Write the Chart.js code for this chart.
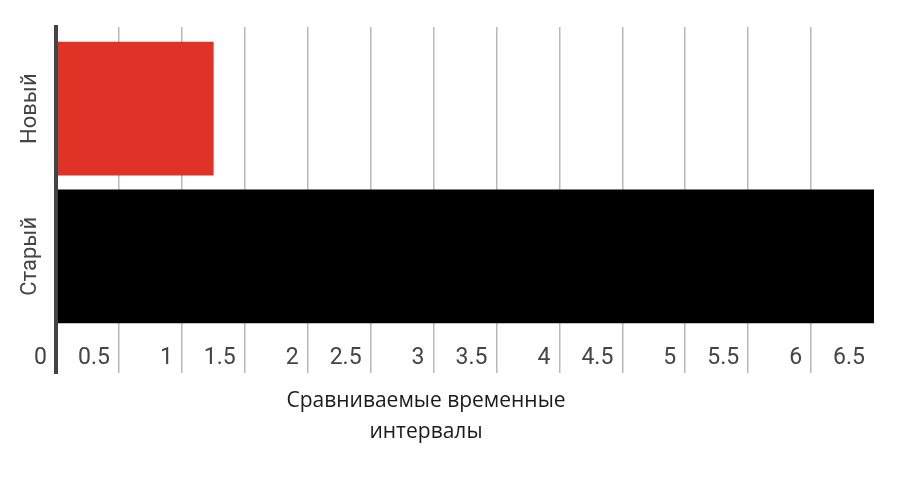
<!DOCTYPE html>
<html>
<head>
<meta charset="utf-8">
<style>
  html, body { margin: 0; padding: 0; background: #ffffff; }
  #wrap { width: 901px; height: 496px; position: relative; }
</style>
<script src="https://cdn.jsdelivr.net/npm/chart.js@4.4.1/dist/chart.umd.min.js"></script>
</head>
<body>
<div id="wrap"><canvas id="c" width="901" height="496"></canvas></div>
<script>
// ---- data ----
const categories = ['Новый', 'Старый'];
const values = [1.25, 6.5];
const barColors = ['#e03227', '#000000'];
const xTickLabels = ['0', '0.5', '1', '1.5', '2', '2.5', '3', '3.5', '4', '4.5', '5', '5.5', '6', '6.5'];
const xMin = 0;
const xMax = 6.5;
const xStep = 0.5;
const xTitleLines = ['Сравниваемые временные', 'интервалы'];

// ---- styles ----
const AXIS_COLOR = '#444444';
const GRID_COLOR = '#b8b8b8';

function gridColor(ctx) {
  if (!ctx.tick) return GRID_COLOR;
  if (ctx.tick.value === xMax) return 'rgba(0,0,0,0)';
  return GRID_COLOR;
}

const sideLabels = {
  id: 'sideLabels',
  afterDraw(chart) {
    const { ctx, chartArea } = chart;
    const yScale = chart.scales.y;
    ctx.save();
    // rotated category labels, placed by the y scale
    ctx.fillStyle = '#444444';
    ctx.font = '22px Roboto';
    ctx.textAlign = 'center';
    ctx.textBaseline = 'middle';
    categories.forEach((c, i) => {
      const py = yScale.getPixelForValue(i);
      ctx.save();
      ctx.translate(chartArea.left - 26, py);
      ctx.rotate(-Math.PI / 2);
      ctx.fillText(c, 0, 0);
      ctx.restore();
    });
    // x-axis title (two lines)
    ctx.fillStyle = '#1a1a1a';
    ctx.font = '21px "Open Sans"';
    const tx = chartArea.left + 370;
    const ty = chartArea.bottom + 28;
    xTitleLines.forEach((line, i) => {
      ctx.fillText(line, tx, ty + i * 31);
    });
    ctx.restore();
  }
};

new Chart(document.getElementById('c').getContext('2d'), {
  type: 'bar',
  data: {
    datasets: [{
      data: values.map((v, i) => ({ x: v, y: i })),
      backgroundColor: barColors,
      borderWidth: 0,
      barThickness: 133
    }]
  },
  options: {
    indexAxis: 'y',
    responsive: false,
    animation: false,
    devicePixelRatio: 1,
    layout: { padding: { left: 56, right: 27, top: 27, bottom: 116 } },
    plugins: {
      legend: { display: false },
      tooltip: { enabled: false },
      title: { display: false }
    },
    scales: {
      x: {
        type: 'linear',
        position: 'bottom',
        min: xMin,
        max: xMax,
        offset: false,
        ticks: {
          stepSize: xStep,
          autoSkip: false,
          maxRotation: 0,
          minRotation: 0,
          mirror: true,
          align: 'end',
          labelOffset: -9,
          padding: 3.5,
          color: '#444444',
          font: { family: 'Roboto', size: 23, lineHeight: 1 },
          callback: (v, i) => xTickLabels[i]
        },
        grid: { color: gridColor, lineWidth: 1.5, drawTicks: false, offset: false },
        border: { display: false }
      },
      y: {
        type: 'linear',
        reverse: true,
        min: -0.553,
        max: 1.79,
        offset: false,
        bounds: 'data',
        grid: { display: false, drawTicks: false, offset: false },
        ticks: { display: false, stepSize: 1 },
        border: { display: true, color: AXIS_COLOR, width: 4, z: 1 }
      }
    }
  },
  plugins: [sideLabels]
});
</script>
</body>
</html>
